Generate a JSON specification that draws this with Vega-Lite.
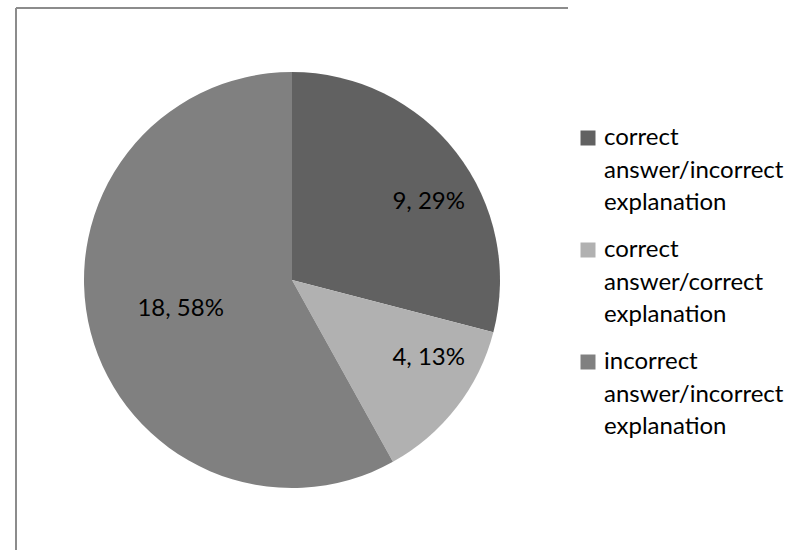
{
  "$schema": "https://vega.github.io/schema/vega-lite/v6.json",
  "width": 552,
  "height": 544,
  "padding": {"left": 16, "top": 8, "right": 0, "bottom": 0},
  "autosize": {"type": "pad"},
  "background": "white",
  "view": {"stroke": "#8c8c8c", "strokeWidth": 2, "strokeDash": [552, 1096, 544, 0], "fill": "white"},
  "config": {
    "font": "Lato",
    "style": {"guide-label": {"lineHeight": 32.5}}
  },
  "data": {
    "values": [
      {"id": 1, "category": "correct answer/incorrect explanation", "count": 9},
      {"id": 2, "category": "correct answer/correct explanation", "count": 4},
      {"id": 3, "category": "incorrect answer/incorrect explanation", "count": 18}
    ]
  },
  "transform": [
    {"joinaggregate": [{"op": "sum", "field": "count", "as": "total"}]},
    {"calculate": "datum.count + ', ' + format(datum.count / datum.total, '.0%')", "as": "label"}
  ],
  "encoding": {
    "theta": {"field": "count", "type": "quantitative", "stack": true},
    "order": {"field": "id", "type": "quantitative"}
  },
  "layer": [
    {
      "mark": {"type": "arc", "outerRadius": 208, "strokeWidth": 0},
      "encoding": {
        "color": {
          "field": "category",
          "type": "nominal",
          "scale": {
            "domain": [
              "correct answer/incorrect explanation",
              "correct answer/correct explanation",
              "incorrect answer/incorrect explanation"
            ],
            "range": ["#616161", "#b1b1b1", "#808080"]
          },
          "legend": {
            "title": null,
            "orient": "none",
            "legendX": 560,
            "legendY": 118,
            "symbolType": "square",
            "symbolSize": 225,
            "symbolStrokeWidth": 0,
            "symbolOpacity": 1,
            "labelExpr": "split(datum.label, ' ')",
            "labelFont": "Lato",
            "labelFontSize": 24,
            "labelColor": "#000000",
            "labelLimit": 300,
            "labelOffset": 4,
            "rowPadding": 23,
            "padding": 0
          }
        }
      }
    },
    {
      "mark": {
        "type": "text",
        "font": "Lato",
        "fontSize": 24,
        "color": "#000000",
        "baseline": "middle",
        "align": {"expr": "datum.count > 10 ? 'center' : 'left'"},
        "radius": {"expr": "datum.count > 10 ? 115 : 127"}
      },
      "encoding": {
        "text": {"field": "label", "type": "nominal"}
      }
    }
  ]
}
